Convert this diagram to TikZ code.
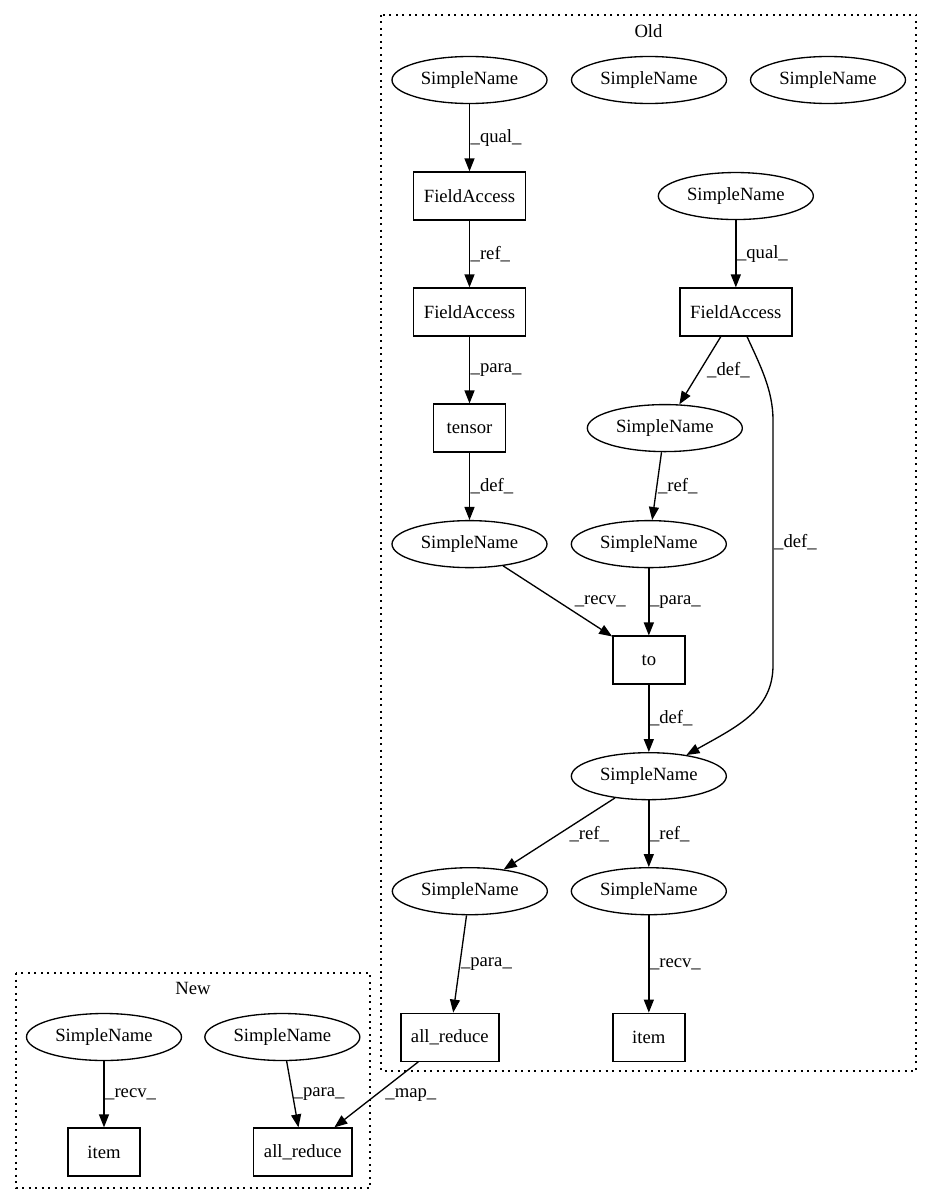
\documentclass[tikz,border=0pt]{standalone}
\usepackage{fontspec}
\setmainfont{Liberation Serif}
\usepackage{tikz}
\usetikzlibrary{positioning,arrows.meta,shapes.geometric}
\newcommand{\gvfont}{\fontsize{18.67}{22}\selectfont}
\tikzset{
  sname/.style={ellipse, draw, line width=1.33pt, minimum width=155pt,
                minimum height=47pt, inner sep=0pt, font=\gvfont},
  ast/.style={rectangle, draw, line width=1.33pt, minimum width=72pt,
              minimum height=48pt, inner sep=0pt, font=\gvfont},
  ar/.style={-{Triangle[length=13pt,width=10pt]}, line width=1.33pt},
  lbl/.style={font=\gvfont, inner sep=0.5pt, anchor=west},
  clu/.style={draw, line width=1.33pt, dash pattern=on 2pt off 4.5pt},
  clulbl/.style={font=\gvfont, inner sep=0pt},
}

\begin{document}
\begin{tikzpicture}[x=1pt, y=-1pt]
\fill[white] (0,0) rectangle (931,1204);

% --- OLD ---
\draw[clu] (381,15) rectangle (916,1071);
\node[clulbl] (oldlbl) at (648.5,31) {Old};
\node[sname] (sn1) at (469.5,80) {SimpleName};
\node[sname] (sn2) at (649,80)   {SimpleName};
\node[sname] (sn3) at (828,80)   {SimpleName};
\node[ast, minimum width=112pt] (fa1) [below=67.2pt of sn1] {FieldAccess};
\node[ast, minimum width=112pt] (fa2) [below=66.7pt of fa1] {FieldAccess};
\node[ast, minimum width=112pt] (fa3) [right=153pt of fa2]  {FieldAccess};
\node[sname] (sn5) [above=67.2pt of fa3] {SimpleName};
\node[ast] (ten) [below=66.7pt of fa2] {tensor};
\node[sname] (sn4) [below=67.2pt of ten] {SimpleName};
\node[sname] (sn6) [below=67.2pt of fa3, xshift=-71pt] {SimpleName};
\node[sname] (sn7) [below=67.7pt of sn6, xshift=-16pt] {SimpleName};
\node[ast] (to) [below=67.2pt of sn7] {to};
\node[sname] (sn8)  [below=67.2pt of to] {SimpleName};
\node[sname] (sn9)  [below=66.7pt of sn8, xshift=-179pt] {SimpleName};
\node[sname] (sn10) [below=66.7pt of sn8] {SimpleName};
\node[ast, minimum width=98pt] (arold) [below=97.2pt of sn9, xshift=-20pt] {all\_reduce};
\node[ast] (item1) [below=97.2pt of sn10] {item};

\draw[ar] (sn1) -- node[lbl]{\_qual\_} (fa1);
\draw[ar] (fa1) -- node[lbl]{\_ref\_} (fa2);
\draw[ar] (fa2) -- node[lbl]{\_para\_} (ten);
\draw[ar] (ten) -- node[lbl]{\_def\_} (sn4);
\draw[ar] (sn5) -- node[lbl]{\_qual\_} (fa3);
\draw[ar] (fa3) -- node[lbl, xshift=6pt]{\_def\_} (sn6);
\draw[ar] (fa3) .. controls (760,365) and (773,390) .. (773,420)
  -- node[lbl]{\_def\_} (773,665) .. controls (773,710) and (738,726) .. (sn8);
\draw[ar] (sn6) -- node[lbl]{\_ref\_} (sn7);
\draw[ar] (sn4) -- node[lbl, xshift=16pt]{\_recv\_} (to);
\draw[ar] (sn7) -- node[lbl]{\_para\_} (to);
\draw[ar] (to) -- node[lbl]{\_def\_} (sn8);
\draw[ar] (sn8) -- node[lbl, xshift=9pt]{\_ref\_} (sn9);
\draw[ar] (sn8) -- node[lbl]{\_ref\_} (sn10);
\draw[ar] (sn9) -- node[lbl]{\_para\_} (arold);
\draw[ar] (sn10) -- node[lbl]{\_recv\_} (item1);

% --- NEW ---
\draw[clu] (16,973) rectangle (370,1188);
\node[clulbl] (newlbl) at (193,988) {New};
\node[sname] (sn11) at (104,1037) {SimpleName};
\node[sname] (sn12) [right=22pt of sn11] {SimpleName};
\node[ast] (item2) [below=66.2pt of sn11] {item};
\node[ast, minimum width=98pt] (arnew) [below=66.2pt of sn12, xshift=20.5pt] {all\_reduce};

\draw[ar] (sn11) -- node[lbl]{\_recv\_} (item2);
\draw[ar] (sn12) -- node[lbl]{\_para\_} (arnew);
\draw[ar] (arold) -- node[lbl, xshift=8pt]{\_map\_} (arnew);

\end{tikzpicture}
\end{document}
